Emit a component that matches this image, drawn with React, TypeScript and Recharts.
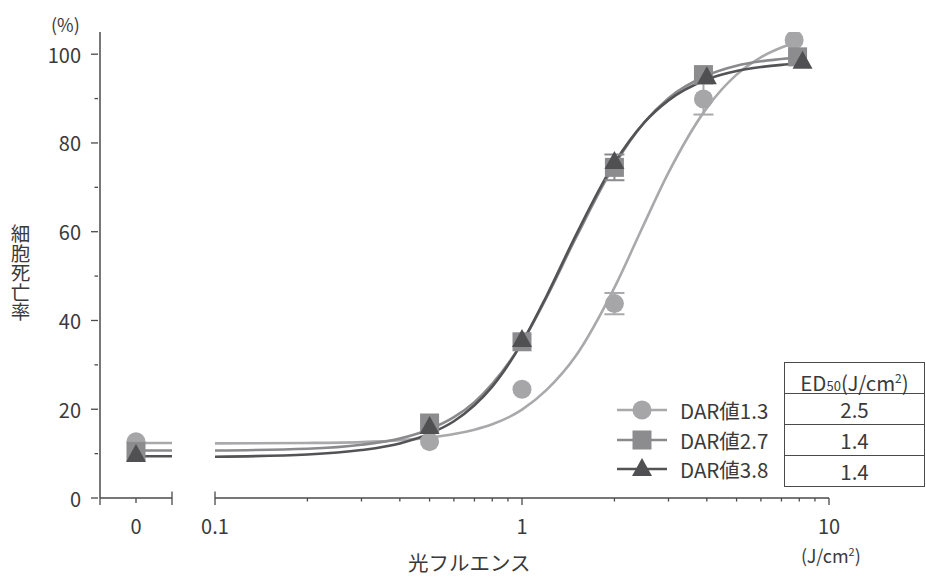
import React from 'react';
import { ComposedChart, Line, Scatter, XAxis, YAxis, ReferenceLine, ErrorBar } from 'recharts';

const FONT = "'Noto Sans CJK JP', 'Noto Sans', sans-serif";
const TEXT = '#3a3a3a';
const AXIS = '#4a4a4a';
const AXIS_Y = 498; // pixel row of the x axis line

// fluence samples used to trace the fitted curves (J/cm2)
const curveFluence = [0.1, 0.2, 0.3, 0.4, 0.5, 0.6, 0.7, 0.8, 1, 1.2, 1.5, 2, 2.5, 3, 4, 5, 6, 7, 8];
const curveDar13 = [12.3, 12.4, 12.6, 13.0, 13.6, 14.4, 15.4, 16.6, 19.9, 24.3, 32.1, 47.4, 61.8, 73.3, 87.9, 95.4, 99.3, 101.5, 102.9];
const curveDar27 = [10.7, 11.1, 12.0, 13.4, 15.5, 18.2, 21.6, 25.7, 35.0, 45.1, 58.7, 75.0, 84.6, 90.1, 95.2, 97.4, 98.4, 98.9, 99.3];
const curveDar38 = [9.3, 9.8, 10.8, 12.3, 14.5, 17.3, 20.9, 25.1, 35.0, 45.4, 59.3, 75.5, 84.6, 89.6, 94.3, 96.2, 97.1, 97.6, 97.9];

// measured cell death (%)
const fluenceDar13 = [0.5, 1, 2, 3.9, 7.7];
const deathDar13 = [12.7, 24.5, 43.8, 89.9, 103.2];
const errDar13 = [null, null, 2.4, 3.5, null];
const fluenceDar27 = [0.5, 1, 2, 3.9, 7.9];
const deathDar27 = [16.9, 35.2, 74.5, 95.4, 99.4];
const errDar27 = [null, null, 2.9, null, null];
const fluenceDar38 = [0.5, 1, 2, 4, 8.2];
const deathDar38 = [16.0, 35.6, 75.7, 94.8, 98.3];
const errDar38 = [null, null, null, null, null];

// 0 J/cm2 controls and the baseline drawn next to them
const zeroDeath = [12.7, 10.5, 9.7];
const zeroBase = [12.4, 10.7, 9.4];

const seriesNames = ['DAR値1.3', 'DAR値2.7', 'DAR値3.8'];
const ed50 = ['2.5', '1.4', '1.4'];
const lineColors = ['#a9a9ac', '#8a8a8d', '#535356'];
const markColors = ['#a6a6a9', '#8c8c8f', '#505053'];
const shapes = ['circle', 'square', 'triangle'];

const yTicks = [0, 10, 20, 30, 40, 50, 60, 70, 80, 90, 100];
const logTicks = [0.1, 0.2, 0.3, 0.4, 0.5, 0.6, 0.7, 0.8, 0.9, 1, 2, 3, 4, 5, 6, 7, 8, 9, 10];
const logLabels: Record<string, string> = { '0.1': '0.1', '1': '1', '10': '10' };
const zeroTicks = [-1, 0, 1];

const curves = [curveDar13, curveDar27, curveDar38].map((vals) =>
  curveFluence.map((x, i) => ({ x, y: vals[i] }))
);
const points = [
  [fluenceDar13, deathDar13, errDar13],
  [fluenceDar27, deathDar27, errDar27],
  [fluenceDar38, deathDar38, errDar38],
].map(([xs, ys, es]) =>
  (xs as number[]).map((x, i) => ({ x, y: (ys as number[])[i], err: (es as (number | null)[])[i] ?? undefined }))
);
const stubs = zeroBase.map((y) => [{ x: 0, y }, { x: 1, y }]);
const zeroPoints = zeroDeath.map((y) => [{ x: 0, y }]);

function Marker({ cx, cy, kind, color }: { cx: number; cy: number; kind: string; color: string }) {
  if (kind === 'circle') return <circle cx={cx} cy={cy} r={9.5} fill={color} />;
  if (kind === 'square') return <rect x={cx - 9.5} y={cy - 9.5} width={19} height={19} fill={color} />;
  return <polygon points={`${cx},${cy - 11} ${cx + 10},${cy + 7} ${cx - 10},${cy + 7}`} fill={color} />;
}

const tickText = { fontFamily: FONT, fontSize: 20, fill: TEXT };

function YTick(props: any) {
  const { x, y, payload } = props;
  const v = payload.value;
  const major = v % 20 === 0;
  return (
    <g>
      <line x1={x - (major ? 7 : 3.5)} x2={x} y1={y} y2={y} stroke={AXIS} strokeWidth={1.3} />
      {major && (
        <text x={x - 17} y={y} textAnchor="end" dominantBaseline="central" {...tickText}>
          {v}
        </text>
      )}
    </g>
  );
}

function LogTick(props: any) {
  const { x, payload } = props;
  const y = AXIS_Y;
  const label = logLabels[String(payload.value)];
  const major = label !== undefined;
  const top = payload.value === 0.1 ? y - 6.5 : y;
  return (
    <g>
      <line x1={x} x2={x} y1={top} y2={y + (major ? 7 : 3.5)} stroke={AXIS} strokeWidth={1.3} />
      {major && (
        <text x={x} y={y + 27} textAnchor="middle" dominantBaseline="central" {...tickText}>
          {label}
        </text>
      )}
    </g>
  );
}

function ZeroTick(props: any) {
  const { x, payload } = props;
  const y = AXIS_Y;
  const v = payload.value;
  const top = v === 1 ? y - 6.5 : y;
  const bottom = v === 0 ? y + 5 : y + 7;
  return (
    <g>
      <line x1={x} x2={x} y1={top} y2={bottom} stroke={AXIS} strokeWidth={1.3} />
      {v === 0 && (
        <text x={x} y={y + 27} textAnchor="middle" dominantBaseline="central" {...tickText}>
          0
        </text>
      )}
    </g>
  );
}

const abs = (left: number, top: number, extra: React.CSSProperties = {}): React.CSSProperties => ({
  position: 'absolute',
  left,
  top,
  fontFamily: FONT,
  color: TEXT,
  whiteSpace: 'nowrap',
  ...extra,
});

export default function App() {
  return (
    <div style={{ position: 'absolute', left: 0, top: 0, width: 926, height: 579, background: '#fff', overflow: 'hidden' }}>
      <ComposedChart width={926} height={579} margin={{ top: 32, right: 97, bottom: 79, left: 0 }}>
        <XAxis
          xAxisId="zero"
          dataKey="x"
          type="number"
          domain={[-1, 1]}
          ticks={zeroTicks}
          interval={0}
          padding={{ left: 0, right: 657 }}
          height={1}
          axisLine={false}
          tickLine={false}
          tickSize={0}
          tick={<ZeroTick />}
        />
        <XAxis
          xAxisId="log"
          dataKey="x"
          type="number"
          scale="log"
          domain={[0.1, 10]}
          ticks={logTicks}
          interval={0}
          padding={{ left: 115, right: 0 }}
          height={1}
          axisLine={false}
          tickLine={false}
          tickSize={0}
          tick={<LogTick />}
          allowDataOverflow
        />
        <YAxis
          dataKey="y"
          type="number"
          domain={[0, 105]}
          ticks={yTicks}
          interval={0}
          width={100}
          tickSize={0}
          tickLine={false}
          axisLine={{ stroke: AXIS, strokeWidth: 1.5 }}
          tick={<YTick />}
          allowDataOverflow
        />
        <ReferenceLine
          xAxisId="zero"
          segment={[{ x: -1, y: 0 }, { x: 1, y: 0 }]}
          stroke={AXIS}
          strokeWidth={1.5}
          ifOverflow="visible"
        />
        <ReferenceLine
          xAxisId="log"
          segment={[{ x: 0.1, y: 0 }, { x: 10, y: 0 }]}
          stroke={AXIS}
          strokeWidth={1.5}
          ifOverflow="visible"
        />
        {curves.map((d, i) => (
          <Line
            key={'c' + i}
            xAxisId="log"
            data={d}
            dataKey="y"
            type="monotone"
            stroke={lineColors[i]}
            strokeWidth={2.6}
            dot={false}
            activeDot={false}
            isAnimationActive={false}
          />
        ))}
        {stubs.map((d, i) => (
          <Line
            key={'s' + i}
            xAxisId="zero"
            data={d}
            dataKey="y"
            stroke={lineColors[i]}
            strokeWidth={2.6}
            dot={false}
            activeDot={false}
            isAnimationActive={false}
          />
        ))}
        {points.map((d, i) => (
          <Scatter
            key={'p' + i}
            xAxisId="log"
            data={d}
            isAnimationActive={false}
            shape={(p: any) => <Marker cx={p.cx} cy={p.cy} kind={shapes[i]} color={markColors[i]} />}
          >
            <ErrorBar dataKey="err" direction="y" width={10} stroke={lineColors[i]} strokeWidth={2} />
          </Scatter>
        ))}
        {zeroPoints.map((d, i) => (
          <Scatter
            key={'z' + i}
            xAxisId="zero"
            data={d}
            isAnimationActive={false}
            shape={(p: any) => <Marker cx={p.cx} cy={p.cy} kind={shapes[i]} color={markColors[i]} />}
          />
        ))}
      </ComposedChart>

      <div style={abs(51, 11, { fontSize: 18 })}>(%)</div>
      <div
        style={abs(10, 224, {
          fontSize: 19.5,
          writingMode: 'vertical-rl',
          textOrientation: 'upright',
          lineHeight: '20px',
        })}
      >
        細胞死亡率
      </div>
      <div style={abs(408, 551, { fontSize: 20.5, lineHeight: '22px' })}>光フルエンス</div>
      <div style={abs(801, 539, { fontSize: 18, lineHeight: '24px' })}>
        (J/cm<sup style={{ fontSize: 11 }}>2</sup>)
      </div>

      {seriesNames.map((name, i) => (
        <div key={name} style={abs(617, 398 + i * 29.5, { height: 24, display: 'flex', alignItems: 'center' })}>
          <svg width={52} height={24}>
            <line x1={0} x2={50} y1={12} y2={12} stroke={lineColors[i]} strokeWidth={2.6} />
            <Marker cx={25} cy={12} kind={shapes[i]} color={markColors[i]} />
          </svg>
          <span style={{ marginLeft: 11, fontSize: 20.5 }}>{name}</span>
        </div>
      ))}

      <div style={abs(784, 362, { width: 141, fontSize: 20.5 })}>
        <div
          style={{
            height: 30,
            borderTop: `1px solid ${AXIS}`,
            borderLeft: `1px solid ${AXIS}`,
            borderRight: `1px solid ${AXIS}`,
            textAlign: 'center',
            lineHeight: '30px',
          }}
        >
          ED<span style={{ fontSize: 13 }}>50</span>(J/cm<sup style={{ fontSize: 12 }}>2</sup>)
        </div>
        {ed50.map((v, i) => (
          <div
            key={i}
            style={{
              height: 30,
              borderTop: `1px solid ${AXIS}`,
              borderLeft: `1px solid ${AXIS}`,
              borderRight: `1px solid ${AXIS}`,
              borderBottom: i === ed50.length - 1 ? `1px solid ${AXIS}` : undefined,
              textAlign: 'center',
              lineHeight: '30px',
            }}
          >
            {v}
          </div>
        ))}
      </div>
    </div>
  );
}
